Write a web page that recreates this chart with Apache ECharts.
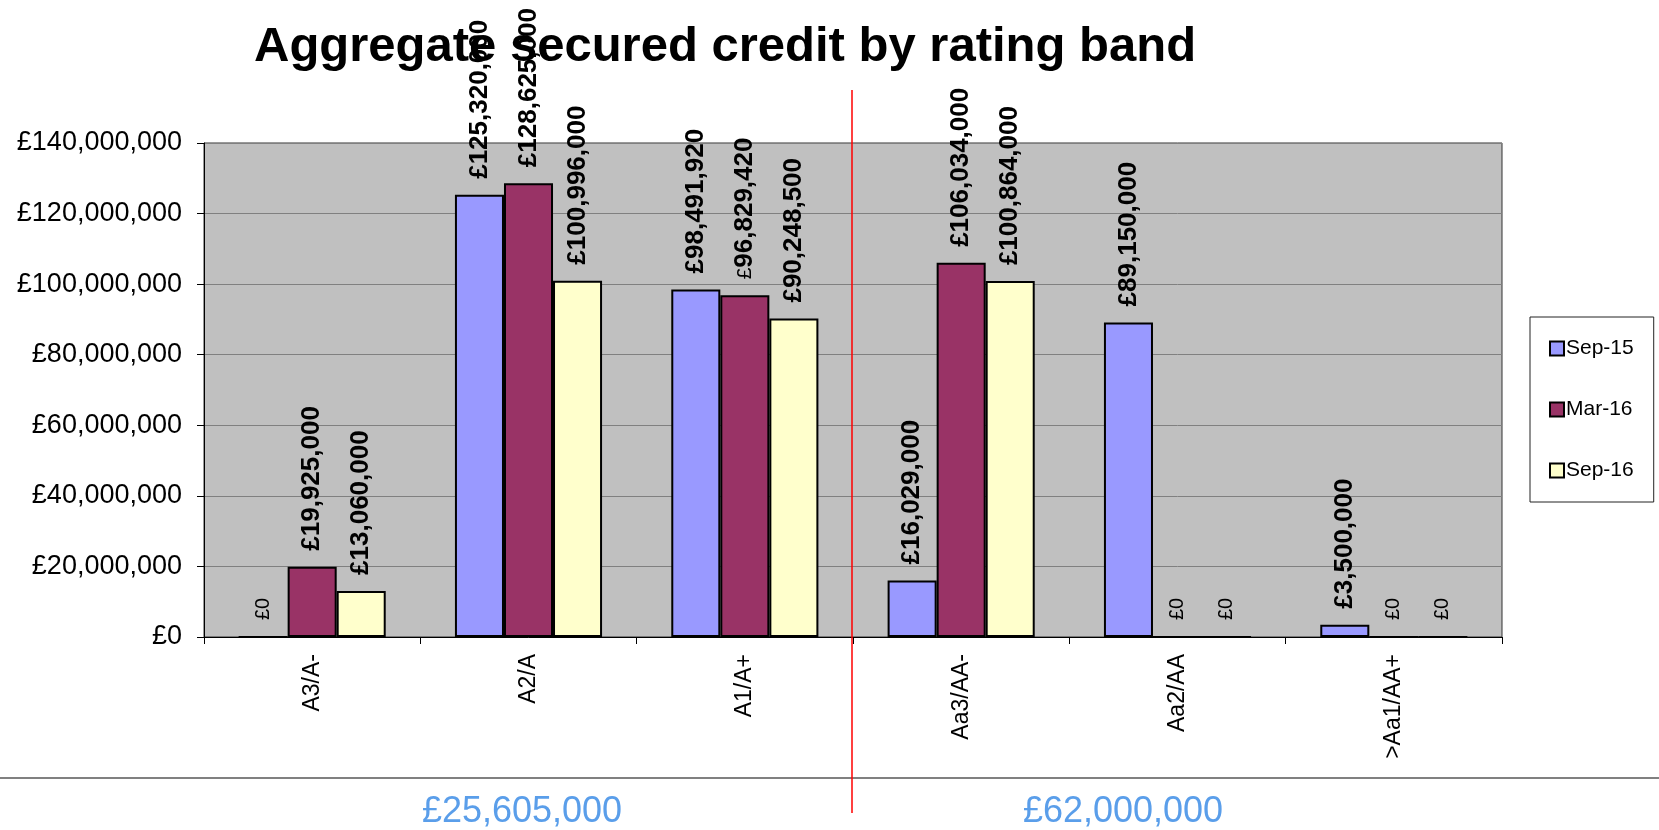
<!DOCTYPE html>
<html>
<head>
<meta charset="utf-8">
<script src="https://cdn.jsdelivr.net/npm/echarts@6/dist/echarts.min.js"></script>
<style>
html,body{margin:0;padding:0;background:#fff;}
#chart{width:1659px;height:830px;}
</style>
</head>
<body>
<div id="chart"></div>
<script>
const categories = ['A3/A-', 'A2/A', 'A1/A+', 'Aa3/AA-', 'Aa2/AA', '>Aa1/AA+'];
const seriesNames = ['Sep-15', 'Mar-16', 'Sep-16'];
const sep15 = [0, 125320000, 98491920, 16029000, 89150000, 3500000];
const mar16 = [19925000, 128625000, 96829420, 106034000, 0, 0];
const sep16 = [13060000, 100996000, 90248500, 100864000, 0, 0];
const yTicks = { min: 0, max: 140000000, interval: 20000000 };
const groupTotals = ['£25,605,000', '£62,000,000'];
const titleText = 'Aggregate secured credit by rating band';
// labels whose "£" sign is drawn in plain (non-bold) type in the original: [seriesIndex, dataIndex]
const plainPoundLabels = [[1, 2]];

const FONT = 'Liberation Sans, Arial, sans-serif';
const colors = ['#9999FF', '#993366', '#FFFFCC'];

function fmt(v) {
  return '£' + Math.round(v).toLocaleString('en-GB');
}

const chart = echarts.init(document.getElementById('chart'), null, { renderer: 'canvas' });

function makeSeries(name, data, idx) {
  return {
    name: name,
    type: 'bar',
    data: data,
    barGap: '0%',
    barCategoryGap: '32%',
    itemStyle: { color: colors[idx], borderColor: '#000', borderWidth: 2 },
    label: {
      show: true,
      position: 'top',
      rotate: 90,
      align: 'left',
      verticalAlign: 'middle',
      distance: 16,
      formatter: function (p) {
        if (p.value === 0) return '{z|' + fmt(p.value) + '}';
        const plain = plainPoundLabels.some(function (q) { return q[0] === p.seriesIndex && q[1] === p.dataIndex; });
        if (plain) return '{p|£}{b|' + fmt(p.value).slice(1) + '}';
        return '{b|' + fmt(p.value) + '}';
      },
      rich: {
        b: { fontFamily: FONT, fontWeight: 'bold', fontSize: 26, color: '#000' },
        p: { fontFamily: FONT, fontWeight: 'normal', fontSize: 21, color: '#000' },
        z: { fontFamily: FONT, fontWeight: 'normal', fontSize: 20, color: '#000' }
      }
    },
    emphasis: { disabled: true }
  };
}

const option = {
  animation: false,
  backgroundColor: '#fff',
  title: {
    text: titleText,
    left: 249,
    top: 18,
    z: 1,
    textStyle: { fontFamily: FONT, fontWeight: 'bold', fontSize: 49, color: '#000' }
  },
  grid: {
    left: 204, right: 157, top: 143, bottom: 193,
    show: true, backgroundColor: '#C0C0C0', borderColor: '#333', borderWidth: 1
  },
  legend: {
    orient: 'vertical',
    left: 1530,
    top: 317,
    data: seriesNames,
    itemWidth: 14,
    itemHeight: 14,
    itemGap: 40,
    padding: [21, 20, 21, 19],
    backgroundColor: '#fff',
    borderColor: '#222',
    borderWidth: 1,
    icon: 'rect',
    itemStyle: { borderColor: '#000', borderWidth: 2 },
    textStyle: { fontFamily: FONT, fontSize: 21, color: '#000', padding: [0, 0, 0, -3] }
  },
  xAxis: {
    type: 'category',
    data: categories,
    axisLine: { lineStyle: { color: '#000', width: 1 } },
    axisTick: { show: true, length: 7, lineStyle: { color: '#000' } },
    axisLabel: { rotate: 90, margin: 17, fontFamily: FONT, fontSize: 23, color: '#000' },
    splitLine: { show: false }
  },
  yAxis: {
    type: 'value',
    min: yTicks.min,
    max: yTicks.max,
    interval: yTicks.interval,
    axisLine: { show: true, lineStyle: { color: '#000', width: 1 } },
    axisTick: { show: true, length: 7, lineStyle: { color: '#000' } },
    axisLabel: {
      margin: 22, fontFamily: FONT, fontSize: 27, color: '#000',
      formatter: function (v) { return fmt(v); }
    },
    splitLine: { show: true, lineStyle: { color: '#808080', width: 1 } }
  },
  series: [
    makeSeries(seriesNames[0], sep15, 0),
    makeSeries(seriesNames[1], mar16, 1),
    makeSeries(seriesNames[2], sep16, 2)
  ]
};

chart.setOption(option);

// divider between the two rating groups: boundary between 3rd and 4th category
const xa = chart.convertToPixel({ xAxisIndex: 0 }, categories[2]);
const xb = chart.convertToPixel({ xAxisIndex: 0 }, categories[3]);
const divX = (xa + xb) / 2 - 1;

chart.setOption({
  graphic: [
    { type: 'line', z: 100, shape: { x1: 0, y1: 778, x2: 1659, y2: 778 }, style: { stroke: '#808080', lineWidth: 2 } },
    { type: 'line', z: 101, shape: { x1: divX, y1: 90, x2: divX, y2: 813 }, style: { stroke: '#FF0000', lineWidth: 1.5 } },
    { type: 'text', z: 100, style: { text: groupTotals[0], x: 522, y: 812, textAlign: 'center', textVerticalAlign: 'middle', fontFamily: FONT, fontSize: 36, fill: '#5A9EEA' } },
    { type: 'text', z: 100, style: { text: groupTotals[1], x: 1123, y: 812, textAlign: 'center', textVerticalAlign: 'middle', fontFamily: FONT, fontSize: 36, fill: '#5A9EEA' } }
  ]
});
</script>
</body>
</html>
